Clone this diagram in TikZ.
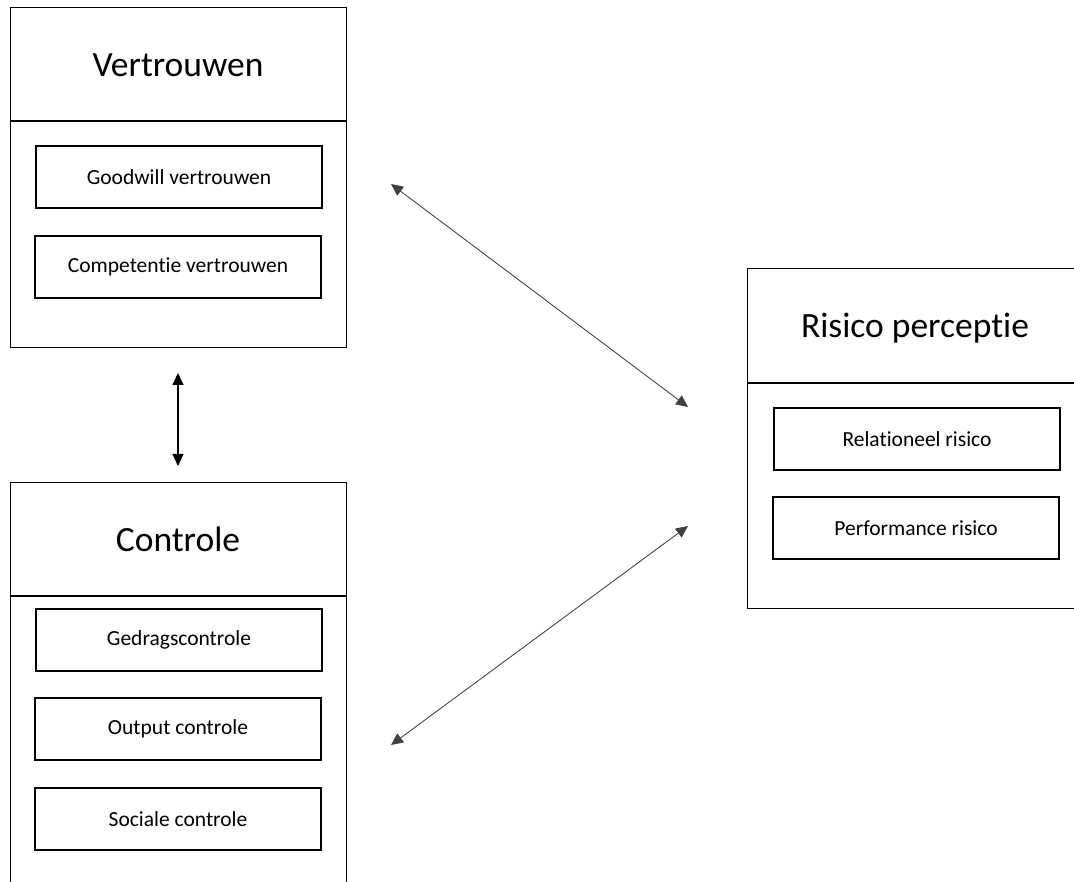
\documentclass[tikz,border=0pt]{standalone}
\usepackage{fontspec}
\setmainfont[Ligatures=NoCommon]{Carlito}
\usetikzlibrary{arrows.meta,calc}

\tikzset{
  panel/.style={draw, line width=1.3pt, anchor=north west, inner sep=0pt},
  headline/.style={font=\fontsize{35.5}{42}\selectfont, inner sep=0pt},
  itembox/.style={draw, line width=1.2pt, minimum width=286pt, minimum height=62pt,
    inner sep=0pt, font=\fontsize{21.5}{25}\selectfont},
  divider/.style={line width=1.2pt},
  link/.style={{Triangle[length=12pt,width=11pt]}-{Triangle[length=12pt,width=11pt]}},
}

\begin{document}
\begin{tikzpicture}[x=1pt,y=-1pt]
  \clip (0,0) rectangle (1074,882);
  \fill[white] (0,0) rectangle (1074,882);

  % Vertrouwen panel
  \node[panel, minimum width=336pt, minimum height=340pt] (vpanel) at (10,7) {};
  \draw[divider] ($(vpanel.north west)+(0,114)$) coordinate (vdl) -- ($(vpanel.north east)+(0,114)$) coordinate (vdr);
  \node[headline] (vtitle) at (178,65) {Vertrouwen};
  \node[itembox] (goodwill) at (179,177) {Goodwill vertrouwen};
  \node[itembox] (competentie) at (178,267) {Competentie vertrouwen};

  % Controle panel (runs past the lower edge)
  \node[panel, minimum width=336pt, minimum height=430pt] (cpanel) at (10,482) {};
  \draw[divider] ($(cpanel.north west)+(0,114)$) coordinate (cdl) -- ($(cpanel.north east)+(0,114)$) coordinate (cdr);
  \node[headline] (ctitle) at (178,539) {Controle};
  \node[itembox] (gedrag) at (179,640) {Gedragscontrole};
  \node[itembox] (output) at (178,729) {Output controle};
  \node[itembox] (sociaal) at (178,819) {Sociale controle};

  % Risico perceptie panel (runs past the right edge)
  \node[panel, minimum width=345pt, minimum height=340pt] (rpanel) at (747,268) {};
  \draw[divider] ($(rpanel.north west)+(0,115)$) coordinate (rdl) -- ($(rpanel.north east)+(0,115)$) coordinate (rdr);
  \node[headline] (rtitle) at (915,328) {Risico perceptie};
  \node[itembox] (relationeel) at (917,439) {Relationeel risico};
  \node[itembox] (performance) at (916,528) {Performance risico};

  % Connector end points
  \coordinate (vtop) at (178,373);
  \coordinate (cbot) at (178,466);
  \coordinate (vr) at (391,184);
  \coordinate (rv) at (688,407);
  \coordinate (rc) at (688,526);
  \coordinate (cr) at (391,745);

  \draw[link, line width=1.1pt] (vtop) -- (cbot);
  \draw[link, line width=0.8pt, draw=black!75, fill=black] (vr) -- (rv);
  \draw[link, line width=0.8pt, draw=black!75, fill=black] (rc) -- (cr);
\end{tikzpicture}
\end{document}
